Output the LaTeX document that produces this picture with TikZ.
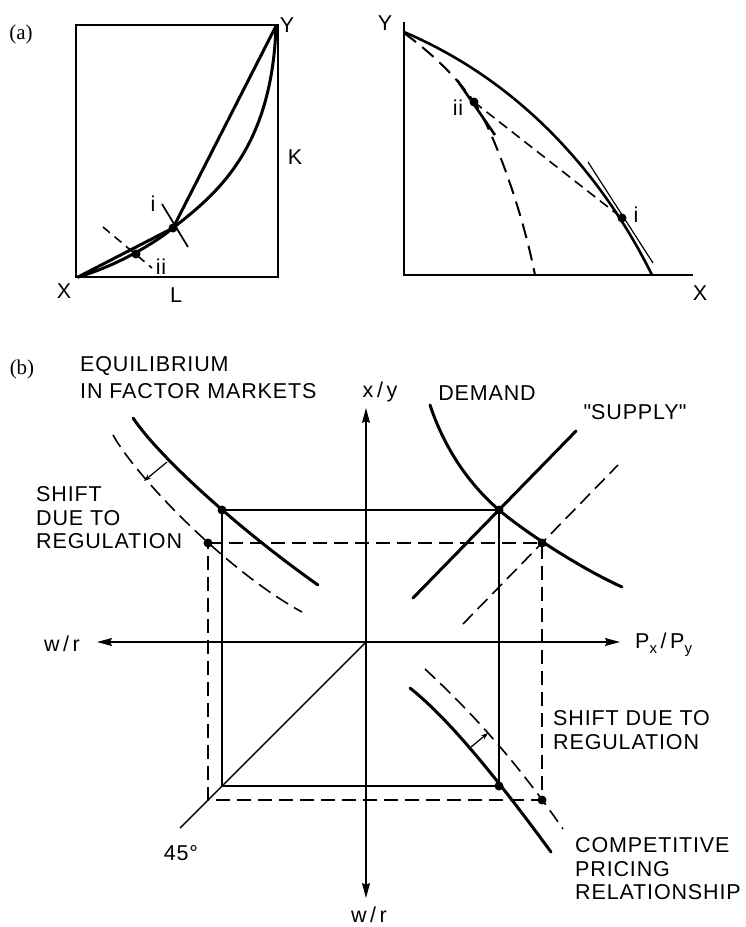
\documentclass[tikz,border=0pt]{standalone}
\usepackage{fontspec}
\setmainfont[LetterSpace=4]{Liberation Sans}
\newfontfamily\tagfont{Liberation Serif}
\usetikzlibrary{arrows.meta}

\tikzset{
  fine/.style={line width=1.4pt},
  heavy/.style={line width=3pt, line cap=round},
  dashline/.style={line width=1.6pt, dash pattern=on 14pt off 7pt},
  dotpt/.style={circle, fill=black, inner sep=0pt, minimum size=9pt},
  lbl/.style={inner sep=0pt, font=\fontsize{21.5}{24}\selectfont},
  tag/.style={inner sep=0pt, font=\tagfont\fontsize{21}{24}\selectfont},
  axis/.style={line width=1.4pt, {Stealth[length=15pt,width=8pt,inset=2pt]}-{Stealth[length=15pt,width=8pt,inset=2pt]}},
  shiftarrow/.style={line width=1.2pt, -{Stealth[length=7pt,width=5pt]}},
}

\begin{document}
\begin{tikzpicture}[x=1pt, y=-1pt]
  \useasboundingbox (0,0) rectangle (745,927);

  % (a) left: box diagram
  \node[tag] (tagA) at (21,34) {(a)};
  \draw[fine] (76,25) rectangle (278,277);
  \coordinate (boxX) at (78,277);
  \coordinate (boxY) at (276,26);
  \coordinate (boxI) at (173,228);
  \coordinate (boxII) at (136,254);
  \draw[heavy] (boxX) -- (boxI) -- (boxY);
  \draw[heavy] (boxX) .. controls (110,268) and (150,247) .. (boxI)
               .. controls (215,195) and (272,150) .. (boxY);
  \draw[line width=1.7pt] (162,204) -- (188,247);
  \draw[dashline, dash pattern=on 9pt off 6pt] (103,227) -- (152,268);
  \node[dotpt] (dotBoxI) at (boxI) {};
  \node[dotpt] (dotBoxII) at (boxII) {};
  \node[lbl] (labBoxY) at (287,25) {Y};
  \node[lbl] (labK) at (295,157) {K};
  \node[lbl] (labBoxX) at (64,291) {X};
  \node[lbl] (labL) at (176,295) {L};
  \node[lbl] (labBoxI) at (153,204) {i};
  \node[lbl] (labBoxII) at (161,267) {ii};

  % (a) right: production frontiers
  \draw[fine] (404,22) -- (404,275) -- (693,275);
  \coordinate (ppY) at (404,33);
  \coordinate (ppI) at (622,218);
  \coordinate (ppII) at (474,102);
  \draw[heavy, line width=2.6pt] (404,32) .. controls (540,90) and (615,200) .. (652,275);
  \draw[line width=1.2pt] (588,162) -- (653,263);
  \draw[dashline, line width=2pt, dash pattern=on 15pt off 8pt]
    (ppY) .. controls (430,52) and (455,75) .. (ppII)
          .. controls (490,125) and (520,200) .. (535,275);
  \draw[dashline, dash pattern=on 10pt off 6pt] (ppII) -- (ppI);
  \draw[line width=2.6pt] (457,80) -- (495,135);
  \node[dotpt] (dotPpI) at (ppI) {};
  \node[dotpt] (dotPpII) at (ppII) {};
  \node[lbl] (labPpY) at (385,23) {Y};
  \node[lbl] (labPpX) at (700,293) {X};
  \node[lbl] (labPpII) at (458,108) {ii};
  \node[lbl] (labPpI) at (636,215) {i};

  % (b) four-quadrant diagram
  \node[tag] (tagB) at (22,369) {(b)};
  \coordinate (O) at (366,642);
  \draw[axis] (97,642) -- (620,642);
  \draw[axis] (366,898) -- (366,408);
  \draw[fine] (O) -- (180,828);

  % equilibrium points
  \coordinate (fSol) at (222,510);
  \coordinate (fDsh) at (208,543);
  \coordinate (mSol) at (499,510);
  \coordinate (mDsh) at (542,543);
  \coordinate (pSol) at (499,786);
  \coordinate (pDsh) at (542,800);

  % competitive rectangle and regulated rectangle
  \draw[fine] (fSol) -- (mSol) -- (pSol) -- (222,786) -- cycle;
  \draw[dashline] (fDsh) -- (mDsh) -- (pDsh) -- (208,800) -- cycle;

  % factor markets
  \draw[heavy] (133,418) .. controls (160,458) and (240,530) .. (318,585);
  \draw[dashline] (113,435) .. controls (135,475) and (225,570) .. (302,612);
  \draw[shiftarrow] (167,462) -- (144,481);

  % demand and supply
  \draw[heavy] (430,405) .. controls (445,450) and (470,485) .. (mSol)
               .. controls (525,532) and (580,568) .. (622,587);
  \draw[heavy] (413,598) -- (576,431);
  \draw[dashline] (463,624) -- (618,465);

  % pricing relationship
  \draw[heavy] (410,688) .. controls (440,712) and (480,755) .. (551,852);
  \draw[dashline] (425,669) .. controls (455,697) and (505,745) .. (563,829);
  \draw[shiftarrow] (471,747) -- (488,733);

  \foreach \p in {fSol, fDsh, mSol, mDsh, pSol, pDsh}
    \node[dotpt] (dot\p) at (\p) {};

  % labels
  \node[lbl, anchor=base west, align=left, font=\fontsize{21.5}{27}\selectfont] (labEq) at (80,398.5) {EQUILIBRIUM\\IN FACTOR MARKETS};
  \node[lbl, anchor=base west, align=left, font=\fontsize{21.5}{23.5}\selectfont] (labShiftL) at (36,548.5) {SHIFT\\DUE TO\\REGULATION};
  \node[lbl, anchor=base] (labDem) at (487,400.5) {DEMAND};
  \node[lbl, anchor=base] (labSup) at (635,419.5) {\textquotedbl SUPPLY\textquotedbl};
  \node[lbl, anchor=base west, align=left, font=\fontsize{21.5}{24}\selectfont] (labShiftR) at (553,749.5) {SHIFT DUE TO\\REGULATION};
  \node[lbl, anchor=base west, align=left, font=\fontsize{21.5}{23.5}\selectfont] (labComp) at (575,899.5) {COMPETITIVE\\PRICING\\RELATIONSHIP};
  \node[lbl] (labXY) at (380,392) {x\,/\,y};
  \node[lbl] (labWRl) at (62,644) {w\,/\,r};
  \node[lbl] (labWRb) at (369,915) {w\,/\,r};
  \node[lbl, anchor=base west] (labPP) at (635,648) {P\raisebox{-0.45ex}{\fontsize{15}{15}\selectfont x}\,/\,P\raisebox{-0.45ex}{\fontsize{15}{15}\selectfont y}};
  \node[lbl] (lab45) at (181,853) {45°};
\end{tikzpicture}
\end{document}
